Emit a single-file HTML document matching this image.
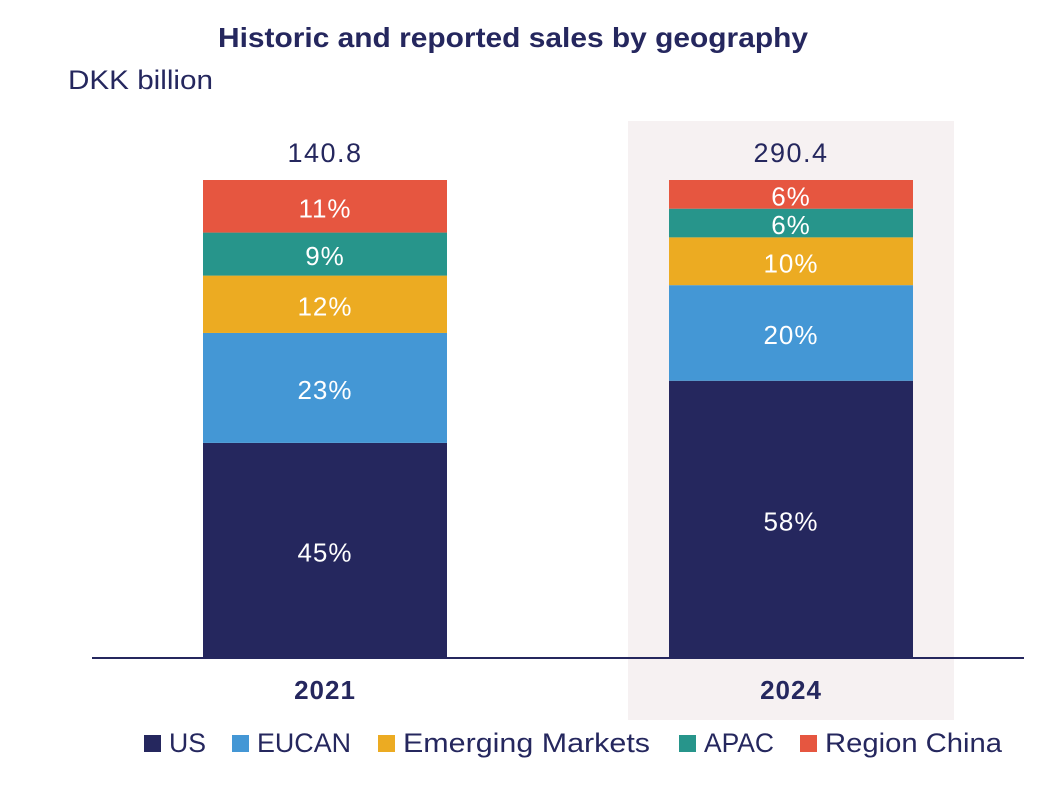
<!DOCTYPE html>
<html><head><meta charset="utf-8"><style>
body{margin:0;background:#fff;}
svg{display:block;font-family:"Liberation Sans",sans-serif;}
</style></head><body>
<svg id="c" width="1056" height="802">
<rect x="628" y="121" width="326" height="599" fill="#f6f1f2"/>
<text x="218" y="47" font-size="28" font-weight="bold" fill="#25275e" textLength="590" lengthAdjust="spacingAndGlyphs">Historic and reported sales by geography</text>
<text x="68" y="89" font-size="27" fill="#25275e" textLength="145" lengthAdjust="spacingAndGlyphs">DKK billion</text>
<g id="bars"></g>
<line x1="92" y1="658" x2="1024" y2="658" stroke="#25275e" stroke-width="2"/>
<g id="legend"></g>
</svg>
<script>
const years=["2021","2024"];
const totals=["140.8","290.4"];
const regions=["US","EUCAN","Emerging Markets","APAC","Region China"];
const colors=["#25275e","#4497d5","#ecab22","#27958b","#e65640"];
const shares2021=[45,23,12,9,11];
const shares2024=[58,20,10,6,6];
const shares=[shares2021,shares2024];
const NS="http://www.w3.org/2000/svg";
const base=658,top0=180,H=base-top0;
const xs=[203,669],bw=244;
function y(p){return base-p/100*H;}
const g=document.getElementById('bars');
function mk(t,a,p){const e=document.createElementNS(NS,t);for(const k in a)e.setAttribute(k,a[k]);(p||g).appendChild(e);return e;}
years.forEach((yr,i)=>{
  let cum=0;const s=shares[i];const sum=s.reduce((a,b)=>a+b,0);
  s.forEach((v,j)=>{
    const p0=cum/sum*100,p1=(cum+v)/sum*100;cum+=v;
    const r=mk('rect',{x:xs[i],y:y(p1),width:bw,height:y(p0)-y(p1),fill:colors[j]});
    
    
    const t=mk('text',{x:xs[i]+bw/2,y:(y(p0)+y(p1))/2+11,'text-anchor':'middle','font-size':26,'letter-spacing':1,fill:'#fff'});
    t.textContent=v+'%';
    
    
  });
  const tt=mk('text',{x:xs[i]+bw/2,y:162,'text-anchor':'middle','font-size':27,'letter-spacing':1.5,fill:'#25275e'});
  tt.textContent=totals[i];
  
  
  const yl=mk('text',{x:xs[i]+bw/2,y:699,'text-anchor':'middle','font-size':26,'font-weight':'bold','letter-spacing':1,fill:'#25275e'});
  yl.textContent=yr;
  
  
});
const lg=document.getElementById('legend');
const lx=[144,232,378,679,800];
const lw=[37,94,247,70,177];
regions.forEach((r,j)=>{
  const sq=mk('rect',{x:lx[j],y:735,width:17,height:17,fill:colors[j]},lg);
  
  
  const t=mk('text',{x:lx[j]+25,y:752,'font-size':27,fill:'#25275e',textLength:lw[j],lengthAdjust:'spacingAndGlyphs'},lg);
  t.textContent=r;
  
  
});
</script>
</body></html>
